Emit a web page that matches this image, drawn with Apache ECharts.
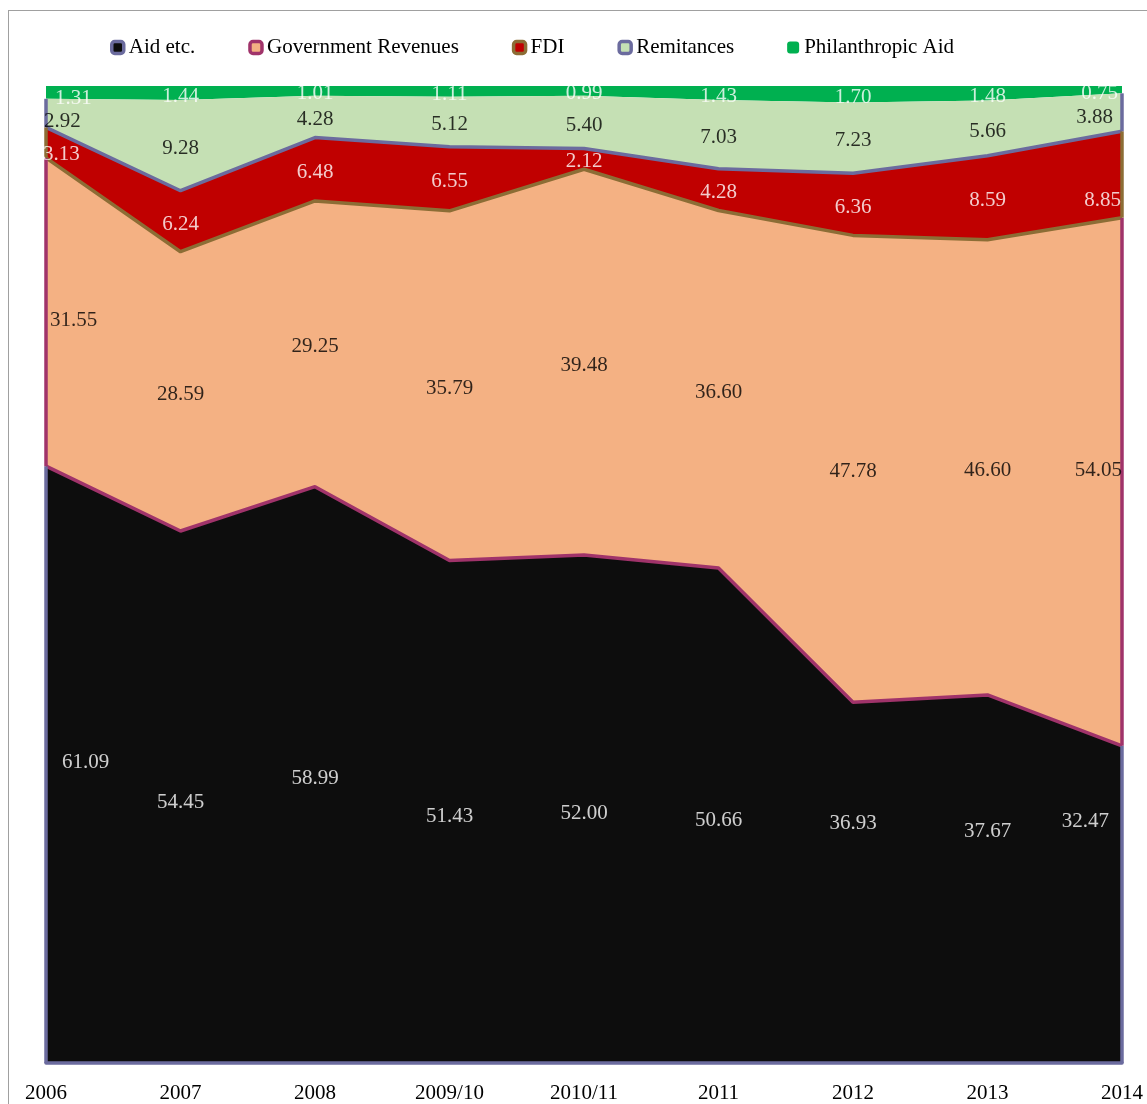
<!DOCTYPE html>
<html>
<head>
<meta charset="utf-8">
<script src="https://cdn.jsdelivr.net/npm/echarts@6/dist/echarts.min.js"></script>
<style>
  html, body { margin: 0; padding: 0; background: #ffffff; overflow: hidden; }
  #frame { position: absolute; left: 8px; top: 10px; width: 1160px; height: 1120px; border-left: 1px solid #a0a0a0; border-top: 1px solid #a0a0a0; box-sizing: border-box; }
  #chart { position: absolute; left: 0; top: 0; width: 1147px; height: 1104px; }
</style>
</head>
<body>
<div id="frame"></div>
<div id="chart"></div>
<script>
// Share of each financing source per year (percent, stacks to 100)
const categories = ['2006', '2007', '2008', '2009/10', '2010/11', '2011', '2012', '2013', '2014'];
const seriesNames = ['Aid etc.', 'Government Revenues', 'FDI', 'Remitances', 'Philanthropic Aid'];

const aidEtc           = [61.09, 54.45, 58.99, 51.43, 52.00, 50.66, 36.93, 37.67, 32.47];
const govRevenues      = [31.55, 28.59, 29.25, 35.79, 39.48, 36.60, 47.78, 46.60, 54.05];
const fdi              = [3.13, 6.24, 6.48, 6.55, 2.12, 4.28, 6.36, 8.59, 8.85];
const remittances      = [2.92, 9.28, 4.28, 5.12, 5.40, 7.03, 7.23, 5.66, 3.88];
const philanthropicAid = [1.31, 1.44, 1.01, 1.11, 0.99, 1.43, 1.70, 1.48, 0.75];

const seriesValues = [aidEtc, govRevenues, fdi, remittances, philanthropicAid];

// Appearance of each band
const fills   = ['#0d0d0d', '#f4b183', '#c00000', '#c5e0b4', '#00b050'];
const borders = ['#6b6b9e', '#a0336a', '#8c6d35', '#6b6b9e', null];
const labelColors = ['#ffffff', '#000000', '#ffffff', '#000000', '#ffffff'];

// Label layout: horizontal nudges at the first and last year,
// and per-label vertical nudges (pixels) away from the band centre
const firstLabelDx = [16, 4, -3, -2, 9];
const lastLabelDx  = [-13, 0, -1, -9, -4];
const labelDyAll = 3;
const labelDy = [
  [-5, 2, 1, 2, 2, 2, -62, -50, -86],
  [5, 0, 0, 0, 0, 0, 0, 0, -14],
  [9, 0, 0, 0, 0, 0, 0, 0, 23],
  [5, 0, 0, 0, 0, 0, 0, 0, 2],
  [3, 0, 0, 0, 0, 0, 0, 0, 1]
];

const FONT = '"Liberation Serif", "Times New Roman", serif';

// running totals below each band
const baseOf = seriesValues.map((vals, i) =>
  vals.map((_, j) => seriesValues.slice(0, i).reduce((s, arr) => s + arr[j], 0))
);

const lastIdx = categories.length - 1;
const series = [];

seriesValues.forEach((vals, i) => {
  // the boundary line on top of a band takes the border colour of the band above it
  const topLine = i < seriesValues.length - 1 ? borders[i + 1] : null;
  const edges = [];
  if (borders[i]) {
    [0, lastIdx].forEach(j => {
      edges.push([
        { coord: [j, baseOf[i][j]] },
        { coord: [j, baseOf[i][j] + vals[j]] }
      ]);
    });
  }
  series.push({
    name: seriesNames[i],
    type: 'line',
    stack: 'total',
    data: vals,
    symbol: 'none',
    z: 10 - i,
    silent: true,
    lineStyle: topLine ? { color: topLine, width: 3.5 } : { width: 0, opacity: 0 },
    itemStyle: { color: fills[i] },
    areaStyle: { color: fills[i], opacity: 1 },
    markLine: edges.length ? {
      silent: true,
      symbol: ['none', 'none'],
      z: 12,
      animation: false,
      label: { show: false },
      lineStyle: { type: 'solid', color: borders[i], width: 3.5 },
      data: edges
    } : undefined
  });
});

// value labels, placed in each band
seriesValues.forEach((vals, i) => {
  series.push({
    name: 'values-' + i,
    type: 'scatter',
    symbolSize: 0,
    silent: true,
    z: 20,
    data: vals.map((v, j) => {
      const dy = labelDyAll + labelDy[i][j];
      const item = { value: [j, baseOf[i][j] + v / 2], label: { offset: [0, dy] } };
      if (j === 0) item.label = { align: 'left', offset: [firstLabelDx[i], dy] };
      if (j === lastIdx) item.label = { align: 'right', offset: [lastLabelDx[i], dy] };
      return item;
    }),
    label: {
      show: true,
      position: 'inside',
      color: labelColors[i],
      fontFamily: FONT,
      fontSize: 21,
      formatter: p => vals[p.dataIndex].toFixed(2)
    }
  });
});

const chart = echarts.init(document.getElementById('chart'), null, { renderer: 'canvas' });
chart.setOption({
  animation: false,
  backgroundColor: 'transparent',
  legend: {
    left: 110,
    top: 37,
    padding: 0,
    itemWidth: 12,
    itemHeight: 12,
    itemGap: 53,
    icon: 'roundRect',
    selectedMode: false,
    textStyle: { fontFamily: FONT, fontSize: 21, color: '#000000' },
    data: seriesNames.map((n, i) => ({
      name: n,
      itemStyle: borders[i]
        ? { color: fills[i], borderColor: borders[i], borderWidth: 3.5 }
        : { color: fills[i], borderWidth: 0 }
    }))
  },
  grid: { left: 46, right: 25, top: 86, bottom: 40, containLabel: false },
  xAxis: {
    type: 'category',
    data: categories,
    boundaryGap: false,
    z: 15,
    axisLine: { show: true, lineStyle: { color: '#6b6b9e', width: 3.5 } },
    axisTick: { show: false },
    axisLabel: { margin: 20, fontFamily: FONT, fontSize: 21, color: '#000000' },
    splitLine: { show: false }
  },
  yAxis: {
    type: 'value',
    min: 0,
    max: 100,
    interval: 20,
    show: false,
    splitLine: { show: false }
  },
  series: series
});
</script>
</body>
</html>
